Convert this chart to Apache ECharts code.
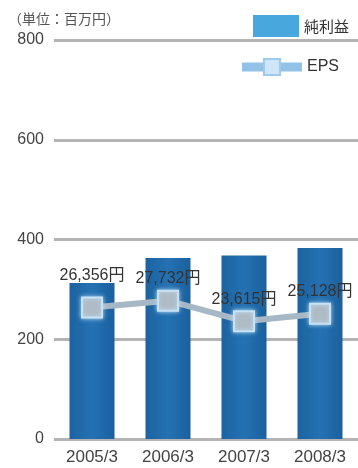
<!DOCTYPE html>
<html>
<head>
<meta charset="utf-8">
<script src="https://cdn.jsdelivr.net/npm/echarts@6/dist/echarts.min.js"></script>
<style>
  html, body { margin: 0; padding: 0; background: #fff; }
  #chart { width: 358px; height: 468px; }
</style>
</head>
<body>
<div id="chart"></div>
<script>
// Fiscal periods and figures
const categories = ['2005/3', '2006/3', '2007/3', '2008/3'];
const netIncome = [313, 363, 368, 383];          // 純利益（百万円）
const eps = [26356, 27732, 23615, 25128];         // EPS（円）
const yTicks = [0, 200, 400, 600, 800];

const FONT = '"Liberation Sans", "Noto Sans CJK JP", sans-serif';
const CJK = '"Noto Sans CJK JP", sans-serif';
const labelOffsets = [[0, -10], [0, 0], [0, 0], [0, 0]];

const chart = echarts.init(document.getElementById('chart'));

chart.setOption({
  backgroundColor: '#ffffff',
  animation: false,
  textStyle: { fontFamily: FONT },
  title: {
    text: '（単位：百万円）',
    left: 3, top: 7,
    textStyle: { fontSize: 14, fontWeight: 'normal', color: '#555', fontFamily: CJK }
  },
  legend: [
    {
      data: [{ name: '純利益', icon: 'rect', itemStyle: { color: '#48a7dd' } }],
      right: 4, top: 10,
      itemWidth: 46, itemHeight: 22, itemGap: 10,
      textStyle: { fontSize: 15, color: '#333', fontFamily: CJK }
    },
    {
      data: ['EPS'],
      right: 14, top: 53,
      itemWidth: 60, itemHeight: 20, itemGap: 9,
      lineStyle: { color: '#93c2e9', width: 9 },
      itemStyle: { color: '#cfe6f8', borderColor: '#9ccbef', borderWidth: 2 },
      textStyle: { fontSize: 16, color: '#333', fontFamily: FONT }
    }
  ],
  grid: { left: 54, right: 0, top: 40, bottom: 29 },
  xAxis: {
    type: 'category',
    data: categories,
    axisLine: { show: false },
    axisTick: { show: false },
    axisLabel: { fontSize: 17, color: '#444', margin: 10, fontFamily: FONT }
  },
  yAxis: [
    {
      type: 'value',
      min: yTicks[0], max: yTicks[yTicks.length - 1], interval: 200,
      axisLine: { show: false },
      axisTick: { show: false },
      axisLabel: { fontSize: 16, color: '#444', margin: 10, fontFamily: FONT },
      splitLine: { lineStyle: { color: '#b4b4b4', width: 3 } }
    },
    {
      type: 'value', min: 0, max: 80000, show: false,
      splitLine: { show: false }
    }
  ],
  series: [
    {
      name: '純利益',
      type: 'bar',
      data: netIncome,
      barWidth: 45,
      itemStyle: {
        color: new echarts.graphic.LinearGradient(0, 0, 1, 0, [
          { offset: 0, color: '#1d62a0' },
          { offset: 0.5, color: '#2472b3' },
          { offset: 1, color: '#1b609e' }
        ])
      },
      z: 2
    },
    {
      name: 'EPS',
      type: 'line',
      yAxisIndex: 1,
      data: eps.map((v, i) => ({ value: v, label: { offset: labelOffsets[i] } })),
      symbol: 'rect',
      symbolSize: 20,
      lineStyle: { color: '#a6b7c5', width: 6 },
      itemStyle: {
        color: '#afbbc5',
        borderColor: '#c8e2f5',
        borderWidth: 2,
        shadowColor: 'rgba(190,225,250,0.9)',
        shadowBlur: 4
      },
      label: {
        show: true,
        position: 'top',
        distance: 3,
        fontSize: 16,
        color: '#333',
        fontFamily: FONT,
        formatter: p => p.value.toLocaleString('en-US') + '円'
      },
      z: 3
    }
  ]
});
</script>
</body>
</html>
